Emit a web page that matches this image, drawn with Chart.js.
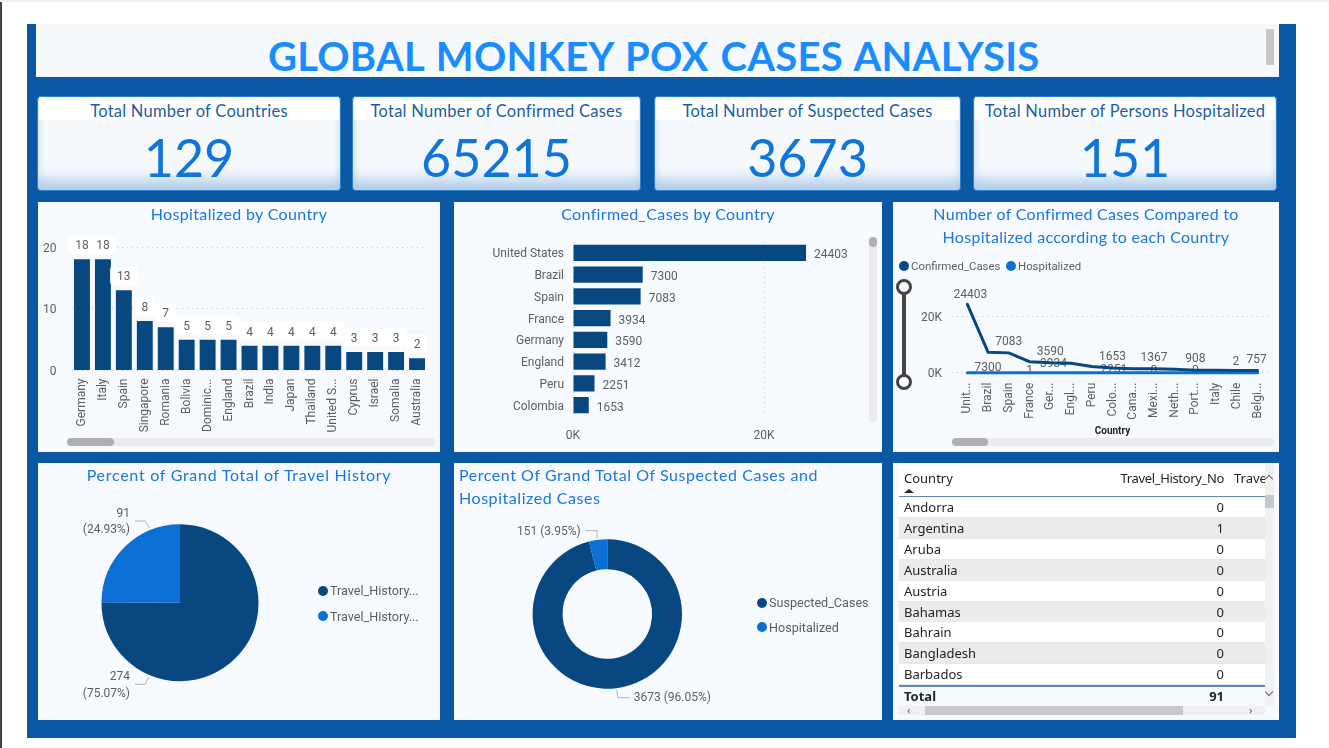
<!DOCTYPE html>
<html>
<head>
<meta charset="utf-8">
<title>Global Monkey Pox Cases Analysis</title>
<script src="https://cdn.jsdelivr.net/npm/chart.js@4/dist/chart.umd.min.js"></script>
<style>
html, body { margin: 0; padding: 0; width: 1329px; height: 748px; overflow: hidden; background: #fff; font-family: Roboto, sans-serif; }
.abs { position: absolute; }
#dash { left: 27px; top: 24px; width: 1269px; height: 714px; background: #0a58a3; }
#edge { left: 0; top: 0; width: 2px; height: 748px; background: #444; }
#topedge { left: 0; top: 0; width: 1329px; height: 2px; background: #f1f1f1; }
#head { left: 36px; top: 24px; width: 1243px; height: 53px; background: #f5f9fc; }
#headText { left: 268px; top: 32px; width: 771px; text-align: center; white-space: nowrap; font: bold 40px "Comic Sans MS", Lato, sans-serif; color: #1a8cff; letter-spacing: 0.25px; word-spacing: 2px; }
#headThumb { left: 1266px; top: 29px; width: 8px; height: 36px; background: #c6c6c6; }
.card { top: 96px; height: 93px; background: #f5f9fc; border: 1px solid #2f7fd0; border-radius: 4px; box-shadow: inset 0 -18px 14px -8px #aecbe8, inset 8px 0 10px -8px #d0e0f1, inset -8px 0 10px -8px #d0e0f1; overflow: hidden; }
.cardHead { left: 1px; right: 1px; top: 0; height: 23px; background: #fff; text-align: center; font: 16.5px/28px "Comic Sans MS", Lato, sans-serif; color: #1a5ea8; white-space: nowrap; letter-spacing: 0.25px; }
.cardValue { left: 0; right: 0; top: 26px; text-align: center; font: 52px/68px "Comic Sans MS", Lato, sans-serif; color: #0f74db; }
.panel { background: #f6f9fd; }
.panel canvas { position: absolute; left: 0; top: 0; }
.ptitle { position: absolute; font: 16px/23px "Comic Sans MS", Lato, sans-serif; color: #1a78e0; white-space: nowrap; }
.track { background: #ebebeb; border-radius: 4px; }
.thumb { background: #b0b0b0; border-radius: 4px; }
.leg { position: absolute; font: 11.4px/16px Roboto, sans-serif; color: #605e5c; white-space: nowrap; }
.leg.big { font-size: 12.6px; }
.dot { position: absolute; width: 10px; height: 10px; border-radius: 50%; }
.cell { position: absolute; font: 13px/21px "Noto Sans", sans-serif; color: #252423; white-space: nowrap; }
</style>
</head>
<body>
<div id="edge" class="abs"></div>
<div id="topedge" class="abs"></div>
<div id="dash" class="abs"></div>
<div id="head" class="abs"></div>
<div id="headText" class="abs">GLOBAL MONKEY POX CASES ANALYSIS</div>
<div id="headThumb" class="abs"></div>
<div id="cards"></div>

<div class="abs panel" style="left:38px;top:202px;width:402px;height:250px">
  <canvas id="hospChart" width="402" height="250"></canvas>
  <div class="ptitle" style="left:0;right:0;top:0;text-align:center;letter-spacing:.35px">Hospitalized by Country</div>
  <div class="abs track" style="left:29px;top:236px;width:368px;height:8px"></div>
  <div class="abs thumb" style="left:29px;top:236px;width:47px;height:8px"></div>
</div>

<div class="abs panel" style="left:454px;top:202px;width:428px;height:250px">
  <canvas id="confChart" width="428" height="250"></canvas>
  <div class="ptitle" style="left:0;right:0;top:0;text-align:center;letter-spacing:.35px">Confirmed_Cases by Country</div>
  <div class="abs track" style="left:415px;top:35px;width:8px;height:185px"></div>
  <div class="abs thumb" style="left:415px;top:35px;width:8px;height:10px"></div>
</div>

<div class="abs panel" style="left:893px;top:202px;width:386px;height:250px">
  <canvas id="lineChart" width="386" height="250"></canvas>
  <div class="ptitle" style="left:0;right:0;top:0;text-align:center;letter-spacing:.3px">Number of Confirmed Cases Compared to<br>Hospitalized according to each Country</div>
  <div class="dot" style="left:6px;top:59px;background:#094780"></div><div class="leg" style="left:18px;top:56px">Confirmed_Cases</div>
  <div class="dot" style="left:113px;top:59px;background:#0c6fd6"></div><div class="leg" style="left:125px;top:56px">Hospitalized</div>
  <div class="abs" style="left:9px;top:85px;width:4px;height:94px;background:#444"></div>
  <div class="abs" style="left:3px;top:77px;width:10px;height:10px;border:3px solid #444;border-radius:50%;background:#fff"></div>
  <div class="abs" style="left:3px;top:172px;width:10px;height:10px;border:3px solid #444;border-radius:50%;background:#fff"></div>
  <div class="abs track" style="left:59px;top:236px;width:322px;height:8px"></div>
  <div class="abs thumb" style="left:59px;top:236px;width:36px;height:8px"></div>
</div>

<div class="abs panel" style="left:38px;top:463px;width:402px;height:257px">
  <canvas id="travelChart" width="402" height="257"></canvas>
  <div class="ptitle" style="left:0;right:0;top:0;text-align:center;letter-spacing:.72px">Percent of Grand Total of Travel History</div>
  <div class="dot" style="left:280px;top:123px;background:#094780"></div><div class="leg big" style="left:292px;top:120px" id="travelLeg0"></div>
  <div class="dot" style="left:280px;top:148px;background:#0c6fd6"></div><div class="leg big" style="left:292px;top:146px" id="travelLeg1"></div>
</div>

<div class="abs panel" style="left:454px;top:463px;width:428px;height:257px">
  <canvas id="shareChart" width="428" height="257"></canvas>
  <div class="ptitle" style="left:5px;top:0;letter-spacing:.55px">Percent Of Grand Total Of Suspected Cases and<br>Hospitalized Cases</div>
  <div class="dot" style="left:303px;top:135px;background:#094780"></div><div class="leg big" style="left:315px;top:132px" id="shareLeg0"></div>
  <div class="dot" style="left:303px;top:159px;background:#0c6fd6"></div><div class="leg big" style="left:315px;top:157px" id="shareLeg1"></div>
</div>

<div class="abs panel" id="tablePanel" style="left:893px;top:463px;width:386px;height:257px;overflow:hidden"></div>

<script>
// values
var cardTitles = ["Total Number of Countries", "Total Number of Confirmed Cases", "Total Number of Suspected Cases", "Total Number of Persons Hospitalized"];
var cardValues = [129, 65215, 3673, 151];

var hospCountries = ["Germany", "Italy", "Spain", "Singapore", "Romania", "Bolivia", "Dominican Republic", "England", "Brazil", "India", "Japan", "Thailand", "United States", "Cyprus", "Israel", "Somalia", "Australia"];
var hospTicks = ["Germany", "Italy", "Spain", "Singapore", "Romania", "Bolivia", "Dominic...", "England", "Brazil", "India", "Japan", "Thailand", "United S...", "Cyprus", "Israel", "Somalia", "Australia"];
var hospValues = [18, 18, 13, 8, 7, 5, 5, 5, 4, 4, 4, 4, 4, 3, 3, 3, 2];

var confCountries = ["United States", "Brazil", "Spain", "France", "Germany", "England", "Peru", "Colombia"];
var confValues = [24403, 7300, 7083, 3934, 3590, 3412, 2251, 1653];

var lineCountries = ["United States", "Brazil", "Spain", "France", "Germany", "England", "Peru", "Colombia", "Canada", "Mexico", "Netherlands", "Portugal", "Italy", "Chile", "Belgium"];
var lineTicks = ["Unit...", "Brazil", "Spain", "France", "Ger...", "Engl...", "Peru", "Colo...", "Cana...", "Mexi...", "Neth...", "Port...", "Italy", "Chile", "Belgi..."];
var lineConfirmed = [24403, 7300, 7083, 3934, 3590, 3412, 2251, 1653, 1400, 1367, 1200, 908, 850, 800, 757];
var lineHospitalized = [4, 4, 13, 1, 18, 5, 0, 0, 0, 0, 0, 0, 18, 2, 1];

var travelLabels = ["Travel_History...", "Travel_History..."];
var travelValues = [274, 91];
var shareLabels = ["Suspected_Cases", "Hospitalized"];
var shareValues = [3673, 151];

var tableCountries = ["Andorra", "Argentina", "Aruba", "Australia", "Austria", "Bahamas", "Bahrain", "Bangladesh", "Barbados"];
var tableTravelNo = [0, 1, 0, 0, 0, 0, 0, 0, 0];
var tableTotal = 91;
var kTicks = [0, 20000];

// label placement, separate from the data: [dataset, index, dx, dy]
var lineLabelPlaces = [
    [0, 0, 3, -9], [0, 1, 0, 16], [0, 2, 0, -11], [0, 3, 24, 2], [0, 4, 0, -11], [0, 6, 22, 4],
    [0, 7, 0, -11], [0, 9, 0, -11], [0, 11, 0, -11], [0, 14, -1, -11],
    [1, 3, 0, -2], [1, 9, 0, -2], [1, 11, 0, -2], [1, 13, -1, -11]
];

var DARK = "#094780", BLUE = "#0c6fd6", TEXT = "#605e5c", GRID = "#c8c8c8";
var UI_FONT = "Roboto";
Chart.defaults.font.family = UI_FONT;
Chart.defaults.font.size = 12;
Chart.defaults.color = TEXT;
Chart.defaults.animation = false;
Chart.defaults.responsive = false;
Chart.defaults.devicePixelRatio = 1;
Chart.defaults.plugins.legend.display = false;
Chart.defaults.plugins.tooltip.enabled = false;

function fixWidth(w) {
    return function (s) { s.width = w; s.paddingTop = s.paddingBottom = 0; s.paddingLeft = s.paddingRight = 0; };
}
function fixHeight(h) {
    return function (s) { s.height = h; s.paddingLeft = s.paddingRight = 0; s.paddingTop = s.paddingBottom = 0; };
}
function kTick(v) { return (v / 1000) + "K"; }
function useKTicks(s) { s.ticks = kTicks.map(function (v) { return { value: v }; }); }

function dottedGrid(tick) {
    return { color: GRID, lineWidth: 1, drawTicks: !!tick, tickLength: tick || 0, tickColor: GRID, tickBorderDash: [1, 4] };
}
var dottedBorder = { display: false, dash: [1, 4] };

function text(ctx, str, x, y, align) {
    ctx.save();
    ctx.font = "12px '" + UI_FONT + "'";
    ctx.fillStyle = TEXT;
    ctx.textAlign = align || "center";
    ctx.textBaseline = "middle";
    ctx.fillText(str, x, y);
    ctx.restore();
}

document.getElementById("cards").innerHTML = [[37, 302], [352, 287], [654, 305], [973, 302]].map(function (b, i) {
    return '<div class="abs card" style="left:' + b[0] + 'px;width:' + b[1] + 'px"><div class="abs cardHead">' + cardTitles[i] + '</div><div class="abs cardValue">' + cardValues[i] + '</div></div>';
}).join("");

// value labels with a white chip over each bar
var chipLabels = {
    id: "chipLabels",
    afterDatasetsDraw: function (chart) {
        var ctx = chart.ctx;
        var bars = chart.getDatasetMeta(0).data;
        ctx.font = "12px '" + UI_FONT + "'";
        bars.forEach(function (bar, i) {
            var w = ctx.measureText(hospValues[i]).width + 14;
            ctx.fillStyle = "#fff";
            ctx.beginPath();
            ctx.roundRect(bar.x - w / 2, bar.y - 23.5, w, 18, 3);
            ctx.fill();
        });
        bars.forEach(function (bar, i) { text(ctx, hospValues[i], bar.x, bar.y - 13); });
    }
};

new Chart(document.getElementById("hospChart"), {
    type: "bar",
    data: { labels: hospCountries, datasets: [{ data: hospValues, backgroundColor: DARK, categoryPercentage: 1, barPercentage: 0.76 }] },
    options: {
        layout: { padding: { left: 0, right: 12.5, top: 45, bottom: 0 } },
        scales: {
            x: {
                afterFit: fixHeight(81.5),
                grid: { display: false }, border: { display: false },
                ticks: { minRotation: 90, maxRotation: 90, autoSkip: false, padding: 0, callback: function (v, i) { return hospTicks[i]; } }
            },
            y: {
                min: 0, max: 20, afterFit: fixWidth(33.5),
                grid: dottedGrid(), border: dottedBorder,
                ticks: { stepSize: 10, padding: 15, labelOffset: 1.5 }
            }
        }
    },
    plugins: [chipLabels]
});

var barEndLabels = {
    id: "barEndLabels",
    afterDatasetsDraw: function (chart) {
        chart.getDatasetMeta(0).data.forEach(function (bar, i) {
            text(chart.ctx, confValues[i], bar.x + 8, bar.y + 2.5, "left");
        });
    }
};

new Chart(document.getElementById("confChart"), {
    type: "bar",
    data: { labels: confCountries, datasets: [{ data: confValues, backgroundColor: DARK, categoryPercentage: 1, barPercentage: 0.74 }] },
    options: {
        indexAxis: "y",
        layout: { padding: { left: 0, right: 22.5, top: 40, bottom: 0 } },
        scales: {
            x: {
                min: 0, max: 30000, afterFit: fixHeight(36), afterBuildTicks: useKTicks,
                grid: dottedGrid(), border: dottedBorder,
                ticks: { padding: 13, callback: kTick }
            },
            y: {
                afterFit: fixWidth(119),
                grid: { display: false }, border: { display: false },
                ticks: { autoSkip: false, padding: 1, labelOffset: 1.5 }
            }
        }
    },
    plugins: [barEndLabels]
});

var lineLabels = {
    id: "lineLabels",
    beforeDatasetsDraw: function (chart) {
        lineLabelPlaces.forEach(function (p) {
            var pt = chart.getDatasetMeta(p[0]).data[p[1]];
            var val = chart.data.datasets[p[0]].data[p[1]];
            text(chart.ctx, val, pt.x + p[2], pt.y + p[3]);
        });
    }
};

new Chart(document.getElementById("lineChart"), {
    type: "line",
    data: {
        labels: lineCountries,
        datasets: [
            { label: "Confirmed_Cases", data: lineConfirmed, borderColor: DARK, borderWidth: 3, pointRadius: 0, tension: 0, borderCapStyle: "round", clip: false },
            { label: "Hospitalized", data: lineHospitalized, borderColor: BLUE, borderWidth: 3, pointRadius: 0, tension: 0, borderCapStyle: "round", clip: false }
        ]
    },
    options: {
        layout: { padding: { left: 0, right: 11, top: 86.7, bottom: 0 } },
        scales: {
            x: {
                offset: true,
                afterFit: fixHeight(79.3),
                grid: { display: false }, border: { display: false },
                title: { display: true, text: "Country", color: "#252423", font: { size: 10, weight: "bold" }, padding: { top: 0, bottom: 15 } },
                ticks: { minRotation: 90, maxRotation: 90, autoSkip: false, padding: 2, callback: function (v, i) { return lineTicks[i]; } }
            },
            y: {
                min: 0, max: 30000, afterFit: fixWidth(64), afterBuildTicks: useKTicks,
                grid: dottedGrid(5), border: dottedBorder,
                ticks: { padding: 10, labelOffset: 1, callback: kTick }
            }
        }
    },
    plugins: [lineLabels]
});

// callout with leader line; offsets are measured from the centre of the ring
function calloutPlugin(values, places) {
    var total = values.reduce(function (a, b) { return a + b; }, 0);
    return {
        id: "callouts",
        afterDatasetsDraw: function (chart) {
            var ctx = chart.ctx;
            var arc = chart.getDatasetMeta(0).data[0];
            places.forEach(function (p) {
                var pct = (values[p.i] / total * 100).toFixed(2) + "%";
                ctx.save();
                ctx.strokeStyle = "#b3b3b3";
                ctx.lineWidth = 1;
                ctx.beginPath();
                p.line.forEach(function (q, k) {
                    if (k === 0) ctx.moveTo(arc.x + q[0], arc.y + q[1]);
                    else ctx.lineTo(arc.x + q[0], arc.y + q[1]);
                });
                ctx.stroke();
                ctx.restore();
                if (p.two) {
                    text(ctx, values[p.i], arc.x + p.tx, arc.y + p.ty, p.align);
                    text(ctx, "(" + pct + ")", arc.x + p.tx, arc.y + p.ty + 16.5, p.align);
                } else {
                    text(ctx, values[p.i] + " (" + pct + ")", arc.x + p.tx, arc.y + p.ty, p.align);
                }
            });
        }
    };
}

document.getElementById("travelLeg0").textContent = travelLabels[0];
document.getElementById("travelLeg1").textContent = travelLabels[1];
document.getElementById("shareLeg0").textContent = shareLabels[0];
document.getElementById("shareLeg1").textContent = shareLabels[1];

new Chart(document.getElementById("travelChart"), {
    type: "pie",
    data: { labels: travelLabels, datasets: [{ data: travelValues, backgroundColor: [DARK, BLUE], borderWidth: 0 }] },
    options: { layout: { padding: { left: 63.5, right: 181.5, top: 61.2, bottom: 38.8 } } },
    plugins: [calloutPlugin(travelValues, [
        { i: 1, two: true, tx: -50, ty: -89, align: "right", line: [[-45, -81.7], [-35, -81.7], [-30.7, -74.7]] },
        { i: 0, two: true, tx: -50, ty: 74.6, align: "right", line: [[-45, 81.6], [-35, 81.6], [-31, 74.6]] }
    ])]
});

new Chart(document.getElementById("shareChart"), {
    type: "doughnut",
    data: { labels: shareLabels, datasets: [{ data: shareValues, backgroundColor: [DARK, BLUE], borderWidth: 0 }] },
    options: { cutout: "60%", layout: { padding: { left: 78.6, right: 200, top: 76.3, bottom: 31.3 } } },
    plugins: [calloutPlugin(shareValues, [
        { i: 1, tx: -26.6, ty: -82.3, align: "right", line: [[-21.6, -83.3], [-10.3, -83.3], [-10.3, -75.7]] },
        { i: 0, tx: 26.4, ty: 84, align: "left", line: [[9.4, 76], [10.7, 83.7], [22.7, 83.7]] }
    ])]
});

// table, offsets are inside the 893,463 panel
var t = '<div class="abs" style="left:6px;top:0;width:366px;height:33px;background:#fff"></div>' +
    '<div class="abs" style="left:372px;top:0;width:9px;height:243px;background:#f0f0f0"></div>' +
    '<div class="abs" style="left:372px;top:32px;width:9px;height:13px;background:#c8c8c8"></div>' +
    '<div class="cell" style="left:11px;top:5px">Country</div>' +
    '<div class="cell" style="right:55px;top:5px;letter-spacing:-.35px">Travel_History_No</div>' +
    '<div class="abs" style="left:341px;top:5px;width:31px;overflow:hidden"><div class="cell" style="position:static">Travel_History_Yes</div></div>' +
    '<div class="abs" style="left:11px;top:26px;width:0;height:0;border-left:5px solid transparent;border-right:5px solid transparent;border-bottom:4px solid #252423"></div>' +
    '<div class="abs" style="left:6px;top:33px;width:366px;height:1px;background:#5c8ab5"></div>';
tableCountries.forEach(function (c, i) {
    var top = 34 + i * 20.9;
    t += '<div class="abs" style="left:6px;width:366px;top:' + top + 'px;height:20px;background:' + (i % 2 ? "#ebebeb" : "#fff") + ';border-bottom:1px solid #e6e6e6"></div>';
    t += '<div class="cell" style="left:11px;top:' + top + 'px">' + c + '</div>';
    t += '<div class="cell" style="right:55px;top:' + top + 'px">' + tableTravelNo[i] + '</div>';
});
t += '<div class="abs" style="left:6px;top:222px;width:366px;height:2px;background:#5c8ab5"></div>' +
    '<div class="cell" style="left:11px;top:223px;font-weight:bold">Total</div>' +
    '<div class="cell" style="right:55px;top:223px;font-weight:bold">' + tableTotal + '</div>' +
    '<div class="abs" style="left:5px;top:243px;width:367px;height:9px;background:#f0f0f0"></div>' +
    '<div class="abs" style="left:32px;top:243px;width:258px;height:9px;background:#c8c8c8"></div>' +
    '<div class="abs" style="left:14px;top:240px;font:11px/14px \'Noto Sans\';color:#666">&lsaquo;</div>' +
    '<div class="abs" style="left:356px;top:240px;font:11px/14px \'Noto Sans\';color:#666">&rsaquo;</div>' +
    '<div class="abs" style="left:373px;top:13px;width:5px;height:5px;border-left:1px solid #666;border-top:1px solid #666;transform:rotate(45deg)"></div>' +
    '<div class="abs" style="left:373px;top:226px;width:5px;height:5px;border-right:1px solid #666;border-bottom:1px solid #666;transform:rotate(45deg)"></div>';
document.getElementById("tablePanel").innerHTML = t;
</script>
</body>
</html>
